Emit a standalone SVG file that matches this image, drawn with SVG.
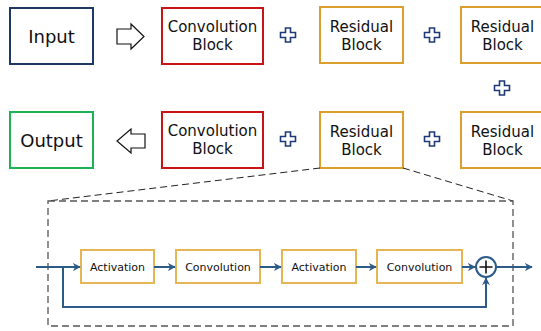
<svg xmlns="http://www.w3.org/2000/svg" xmlns:xlink="http://www.w3.org/1999/xlink" width="541" height="331" viewBox="0 0 541 331">
  <style>
    text { font-family: "DejaVu Sans", "Liberation Sans", sans-serif; fill: #111; text-anchor: middle; }
    .big { font-size: 18px; }
    .mid { font-size: 15px; }
    .small { font-size: 11px; }
    .box { fill: #fff; stroke-width: 2; }
    .in { stroke: #1f3864; }
    .conv { stroke: #c81414; }
    .res { stroke: #dc9f2e; }
    .out { stroke: #1db354; }
    .inner { fill: #fff; stroke: #e6b655; stroke-width: 2; }
    .blockarrow { fill: #fff; stroke: #111; stroke-width: 1.2; stroke-linejoin: miter; }
    .plus { fill: #fff; stroke: #1f3a78; stroke-width: 1.6; }
    .flow { fill: none; stroke: #2d5b88; stroke-width: 2; }
    .zoomline { fill: none; stroke: #222; stroke-width: 1; stroke-dasharray: 7 4; }
    .frame { fill: none; stroke: #555; stroke-width: 1.3; stroke-dasharray: 7 4; }
  </style>
  <defs>
    <path id="plusIcon" d="M -2.5 -7 H 2.5 V -2.5 H 7.5 V 2.5 H 2.5 V 7 H -2.5 V 2.5 H -7.5 V -2.5 H -2.5 Z"/>
    <marker id="head" viewBox="0 0 10 10" refX="9" refY="5" markerWidth="4" markerHeight="4" orient="auto" markerUnits="strokeWidth">
      <path d="M 0 0 L 10 5 L 0 10 L 3 5 Z" fill="#2d5b88"/>
    </marker>
  </defs>

  <!-- top row -->
  <g id="input">
    <rect class="box in" x="10" y="8" width="83" height="56"/>
    <text class="big" x="51.5" y="42.5">Input</text>
  </g>
  <g id="arrow-in">
    <polygon class="blockarrow" points="117,29 131,29 131,24 144,36.5 131,49 131,44 117,44"/>
  </g>
  <g id="conv-top">
    <rect class="box conv" x="162" y="8" width="101" height="56"/>
    <text class="mid" x="212.5" y="32">Convolution</text>
    <text class="mid" x="212.5" y="50">Block</text>
  </g>
  <g id="plus-1"><use href="#plusIcon" class="plus" x="288" y="35"/></g>
  <g id="res-top-1">
    <rect class="box res" x="320" y="7" width="83" height="56"/>
    <text class="mid" x="361.5" y="31.5">Residual</text>
    <text class="mid" x="361.5" y="49.5">Block</text>
  </g>
  <g id="plus-2"><use href="#plusIcon" class="plus" x="432" y="35"/></g>
  <g id="res-top-2">
    <rect class="box res" x="461" y="7" width="83" height="56"/>
    <text class="mid" x="502.5" y="31.5">Residual</text>
    <text class="mid" x="502.5" y="49.5">Block</text>
  </g>
  <g id="plus-3"><use href="#plusIcon" class="plus" x="502" y="88"/></g>

  <!-- bottom row -->
  <g id="output">
    <rect class="box out" x="10" y="112" width="83" height="56"/>
    <text class="big" x="51.5" y="146.5">Output</text>
  </g>
  <g id="arrow-out">
    <polygon class="blockarrow" points="145,134 131,134 131,129 117,141 131,153 131,148 145,148"/>
  </g>
  <g id="conv-bottom">
    <rect class="box conv" x="162" y="112" width="101" height="56"/>
    <text class="mid" x="212.5" y="136">Convolution</text>
    <text class="mid" x="212.5" y="154">Block</text>
  </g>
  <g id="plus-4"><use href="#plusIcon" class="plus" x="288" y="139"/></g>
  <g id="res-bottom-1">
    <rect class="box res" x="320" y="112" width="83" height="56"/>
    <text class="mid" x="361.5" y="136.5">Residual</text>
    <text class="mid" x="361.5" y="154.5">Block</text>
  </g>
  <g id="plus-5"><use href="#plusIcon" class="plus" x="432" y="139"/></g>
  <g id="res-bottom-2">
    <rect class="box res" x="461" y="112" width="83" height="56"/>
    <text class="mid" x="502.5" y="136.5">Residual</text>
    <text class="mid" x="502.5" y="154.5">Block</text>
  </g>

  <!-- expanded view of one residual block -->
  <g id="detail-frame">
    <line class="zoomline" x1="320" y1="168" x2="48" y2="201"/>
    <line class="zoomline" x1="403" y1="168" x2="513" y2="201"/>
    <rect class="frame" x="48" y="201" width="465" height="125"/>
  </g>

  <g id="act-1">
    <rect class="inner" x="81" y="250" width="73" height="33"/>
    <text class="small" x="117.5" y="271">Activation</text>
  </g>
  <g id="conv-1">
    <rect class="inner" x="176" y="250" width="84" height="33"/>
    <text class="small" x="218" y="271">Convolution</text>
  </g>
  <g id="act-2">
    <rect class="inner" x="282" y="250" width="74" height="33"/>
    <text class="small" x="319" y="271">Activation</text>
  </g>
  <g id="conv-2">
    <rect class="inner" x="377" y="250" width="85" height="33"/>
    <text class="small" x="419.5" y="271">Convolution</text>
  </g>
  <g id="sum">
    <circle cx="486" cy="267" r="10" fill="#fff" stroke="#2d5b88" stroke-width="2"/>
    <path d="M 479.5 267 H 492.5 M 486 260.5 V 273.5" stroke="#111" stroke-width="1.6"/>
  </g>

  <g id="connectors">
    <line class="flow" x1="36" y1="267" x2="80" y2="267" marker-end="url(#head)"/>
    <line class="flow" x1="154" y1="267" x2="175" y2="267" marker-end="url(#head)"/>
    <line class="flow" x1="260" y1="267" x2="281" y2="267" marker-end="url(#head)"/>
    <line class="flow" x1="356" y1="267" x2="376" y2="267" marker-end="url(#head)"/>
    <line class="flow" x1="462" y1="267" x2="475" y2="267" marker-end="url(#head)"/>
    <line class="flow" x1="496" y1="267" x2="532" y2="267" marker-end="url(#head)"/>
    <polyline class="flow" points="63,267 63,307 486,307 486,278" marker-end="url(#head)"/>
  </g>
</svg>
